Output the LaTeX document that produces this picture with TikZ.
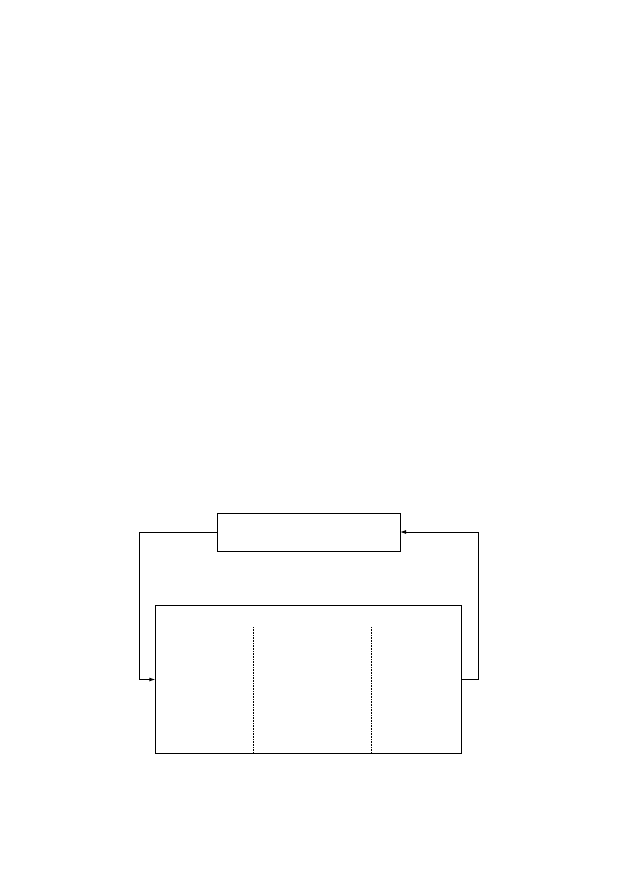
\documentclass[tikz,border=0pt]{standalone}
\usetikzlibrary{arrows.meta}
\begin{document}
\begin{tikzpicture}[x=1pt,y=-1pt,line width=0.9pt,
    block/.style={draw,inner sep=0pt,outer sep=0pt},
    loop/.style={-{Latex[length=6pt,width=4pt]}}]
    \useasboundingbox (0,0) rectangle (633,895);
    \node[block,minimum width=183pt,minimum height=38pt] (ctrl) at (308.5,532) {};
    \node[block,minimum width=306pt,minimum height=148pt] (plant) at (308.3,679.5) {};
    % feedback paths
    \draw[loop] (ctrl.west) -- ++(-78,0) coordinate (lc) |- (plant.west);
    \draw[loop] (plant.east) -- ++(17,0) coordinate (rc) |- (ctrl.east);
    % partitions
    \coordinate (p1) at (253,627);
    \coordinate (p2) at (371,627);
    \draw[densely dotted,line width=0.6pt] (p1) -- (p1 |- plant.south);
    \draw[densely dotted,line width=0.6pt] (p2) -- (p2 |- plant.south);
\end{tikzpicture}
\end{document}
